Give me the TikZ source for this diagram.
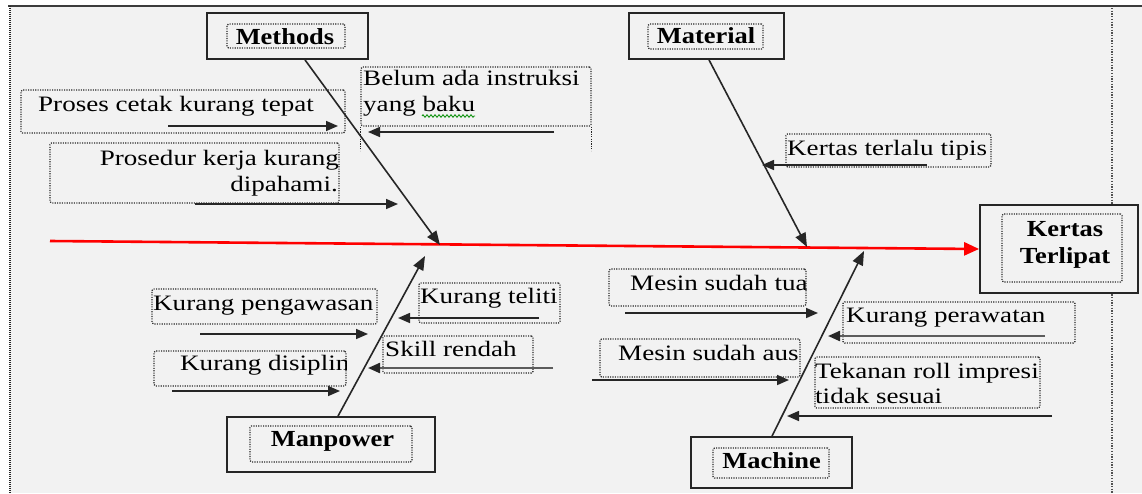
\documentclass[tikz,border=0pt]{standalone}
\usepackage{fontspec}
\setmainfont{Liberation Serif}
\newfontfamily\causefont[FakeStretch=1.23]{Liberation Serif}
\newfontfamily\headfont[FakeStretch=1.15]{Liberation Serif}
\usetikzlibrary{arrows.meta,decorations.pathmorphing}
\definecolor{bgc}{HTML}{F2F2F2}
\definecolor{ln}{HTML}{262626}
\begin{document}
\begin{tikzpicture}[x=1pt,y=-1pt,
  headout/.style={draw=ln, line width=1.8pt, fill=bgc, inner sep=0pt},
  headin/.style={draw=ln, line width=1.3pt, dash pattern=on 1.1pt off 1.3pt, rounded corners=1.5pt, inner sep=0pt},
  headtxt/.style={font=\headfont\fontsize{23}{27}\selectfont\bfseries, text=black, inner sep=0pt, align=center},
  cbox/.style={draw=ln, line width=1.3pt, dash pattern=on 1.1pt off 1.3pt, rounded corners=1.5pt, inner sep=0pt},
  ctxt/.style={font=\causefont\fontsize{22}{26}\selectfont, text=black, inner sep=0pt, anchor=base west},
  bone/.style={draw=ln, line width=1.6pt, -{Triangle[length=14pt,width=11pt]}},
  carrow/.style={draw=ln, line width=1.6pt, -{Triangle[length=12pt,width=10pt,color=ln]}},
  spine/.style={draw=red, line width=2.6pt, -{Triangle[length=15pt,width=13pt]}}
]
\useasboundingbox (0,0) rectangle (1142,493);
\fill[white] (0,0) rectangle (1142,493);
\fill[bgc] (10,6) rectangle (1142,493);
% frame
\draw[ln!90, line width=2pt] (8,6) -- (1142,6);
\draw[ln, line width=2.6pt, dash pattern=on 1pt off 1pt] (10,6) -- (10,493);
\draw[ln!80, line width=1.6pt, dash pattern=on 1.3pt off 1.4pt] (1112,8) -- (1112,493);

% head boxes
\node[headout, minimum width=161pt, minimum height=46pt] (methods) at (287.5,36) {};
\node[headin, minimum width=118pt, minimum height=24pt] (methodsIn) at (286,36) {};
\node[headtxt, anchor=base] (methodsT) at (285,44) {Methods};

\node[headout, minimum width=155pt, minimum height=46pt] (material) at (706.5,36) {};
\node[headin, minimum width=115pt, minimum height=25pt] (materialIn) at (705.5,36.5) {};
\node[headtxt, anchor=base] (materialT) at (706,43.3) {Material};

\node[headout, minimum width=158pt, minimum height=88pt] (kertas) at (1059,249) {};
\node[headin, minimum width=120pt, minimum height=68pt] (kertasIn) at (1062,248) {};
\node[headtxt, anchor=base] (kertasT1) at (1065,236) {Kertas};
\node[headtxt, anchor=base] (kertasT2) at (1065,263) {Terlipat};

\node[headout, minimum width=208pt, minimum height=55pt] (manpower) at (331,444.5) {};
\node[headin, minimum width=162pt, minimum height=36pt] (manpowerIn) at (331,444) {};
\node[headtxt, anchor=base] (manpowerT) at (332.5,446.7) {Manpower};

\node[headout, minimum width=161pt, minimum height=51pt] (machine) at (771.5,462.5) {};
\node[headin, minimum width=116pt, minimum height=30pt] (machineIn) at (771,463) {};
\node[headtxt, anchor=base] (machineT) at (771.7,468.3) {Machine};

% spine and bones
\coordinate (sp0) at (50,241);
\draw[spine] (sp0) -- (kertas.west);
\coordinate (mB) at (440,245);
\coordinate (tB) at (807,247);
\coordinate (pB) at (425,256);
\coordinate (cB) at (864,251);
\draw[bone] ([xshift=17.5pt]methods.south) -- (mB);
\draw[bone] ([xshift=2.5pt]material.south) -- (tB);
\draw[bone] ([xshift=7pt]manpower.north) -- (pB);
\draw[bone] ([xshift=0.5pt]machine.north) -- (cB);

% cause boxes
\node[cbox, minimum width=324pt, minimum height=43pt] (c1) at (183,111.5) {};
\node[ctxt] (t1) at (38,111.7) {Proses cetak kurang tepat};

\node[cbox, minimum width=289pt, minimum height=60pt] (c2) at (194.5,173) {};
\node[ctxt, anchor=base east] (t2a) at (339,165) {Prosedur kerja kurang};
\node[ctxt, anchor=base east] (t2b) at (338,191) {dipahami.};

\node[cbox, minimum width=230pt, minimum height=59pt] (c3) at (476,96.5) {};
\draw[ln, line width=1.3pt, dash pattern=on 1.1pt off 1.3pt] (c3.south west) -- ++(0,24);
\draw[ln, line width=1.3pt, dash pattern=on 1.1pt off 1.3pt] (c3.south east) -- ++(0,24);
\node[ctxt] (t3a) at (363,85.7) {Belum ada instruksi};
\node[ctxt] (t3b) at (363,111.7) {yang baku};
\draw[green!55!black, line width=0.8pt, decorate, decoration={zigzag, amplitude=1.3pt, segment length=4pt}] (422,116) -- (475,116);

\node[cbox, minimum width=205pt, minimum height=33pt] (c4) at (888.5,150.5) {};
\node[ctxt] (t4) at (787,155) {Kertas terlalu tipis};

\node[cbox, minimum width=225pt, minimum height=35pt] (c5) at (264.5,306.5) {};
\node[ctxt] (t5) at (153,310) {Kurang pengawasan};

\node[cbox, minimum width=192pt, minimum height=35pt] (c6) at (250,368.5) {};
\begin{scope}
\clip (c6.south west) rectangle (c6.north east);
\node[ctxt] (t6) at (180,370.7) {Kurang disiplin};
\end{scope}

\node[cbox, minimum width=141pt, minimum height=40pt] (c7) at (489.5,303) {};
\node[ctxt] (t7) at (420,303.3) {Kurang teliti};

\node[cbox, minimum width=150pt, minimum height=37pt] (c8) at (458,354.5) {};
\node[ctxt] (t8) at (385,356.7) {Skill rendah};

\node[cbox, minimum width=197pt, minimum height=37pt] (c9) at (707.5,287.5) {};
\begin{scope}
\clip (c9.south west) rectangle (c9.north east);
\node[ctxt] (t9) at (630,290) {Mesin sudah tua};
\end{scope}

\node[cbox, minimum width=200pt, minimum height=38pt] (c10) at (700,358) {};
\begin{scope}
\clip (c10.south west) rectangle (c10.north east);
\node[ctxt] (t10) at (618,360) {Mesin sudah aus};
\end{scope}

\node[cbox, minimum width=232pt, minimum height=41pt] (c11) at (959,322.5) {};
\node[ctxt] (t11) at (846,322.7) {Kurang perawatan};

\node[cbox, minimum width=225pt, minimum height=51pt] (c12) at (927.5,382.5) {};
\node[ctxt] (t12a) at (815,378.3) {Tekanan roll impresi};
\node[ctxt] (t12b) at (815,403.3) {tidak sesuai};

% cause arrows
\coordinate (a1s) at (168,126);  \coordinate (a1e) at (338,126);
\coordinate (a2s) at (195,204);  \coordinate (a2e) at (398,204);
\coordinate (a3s) at (554,132);  \coordinate (a3e) at (368,132);
\coordinate (a4s) at (927,165);  \coordinate (a4e) at (762,165);
\coordinate (a5s) at (200,334);  \coordinate (a5e) at (368,334);
\coordinate (a6s) at (172,391);  \coordinate (a6e) at (340,391);
\coordinate (a7s) at (539,318);  \coordinate (a7e) at (398,318);
\coordinate (a8s) at (553,368);  \coordinate (a8e) at (368,368);
\coordinate (a9s) at (625,313);  \coordinate (a9e) at (818,313);
\coordinate (a10s) at (592,380); \coordinate (a10e) at (789,380);
\coordinate (a11s) at (1045,336); \coordinate (a11e) at (828,336);
\coordinate (a12s) at (1052,416); \coordinate (a12e) at (787,416);
\draw[carrow] (a1s) -- (a1e);
\draw[carrow] (a2s) -- (a2e);
\draw[carrow] (a3s) -- (a3e);
\draw[carrow] (a4s) -- (a4e);
\draw[carrow] (a5s) -- (a5e);
\draw[carrow] (a6s) -- (a6e);
\draw[carrow] (a7s) -- (a7e);
\draw[carrow, draw=ln!75, line width=2.2pt] (a8s) -- (a8e);
\draw[carrow] (a9s) -- (a9e);
\draw[carrow] (a10s) -- (a10e);
\draw[carrow, draw=ln!75, line width=2.2pt] (a11s) -- (a11e);
\draw[carrow] (a12s) -- (a12e);
\end{tikzpicture}
\end{document}
